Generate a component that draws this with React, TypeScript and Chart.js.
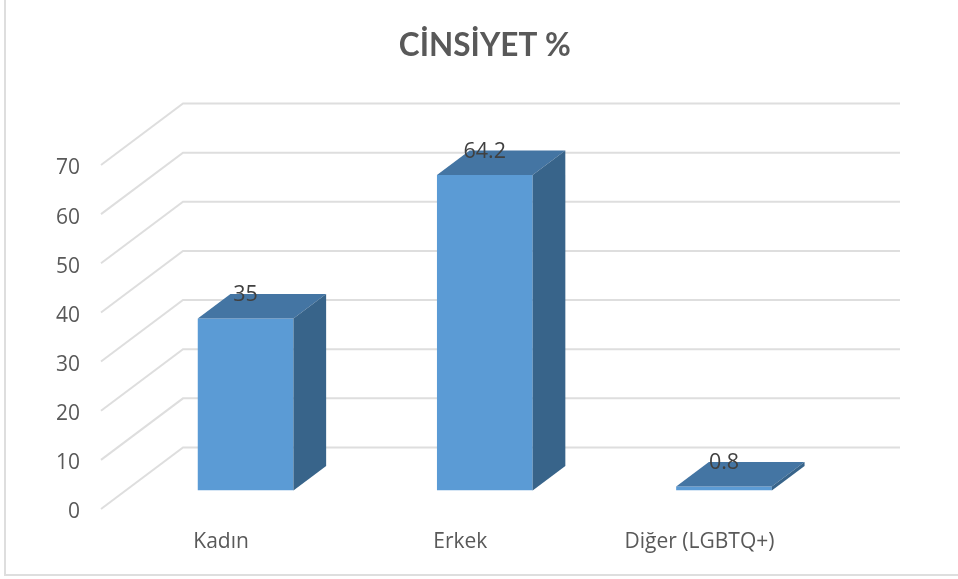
import React, { useEffect, useRef } from "react";
import { Chart, registerables } from "chart.js";

Chart.register(...registerables);

const categories = ["Kadın", "Erkek", "Diğer (LGBTQ+)"];
const values = [35, 64.2, 0.8];
const chartTitle = "CİNSİYET %";
const yMin = 0;
const yMax = 70;
const yStep = 10;

const FONT = "'Open Sans', sans-serif";
const TITLE_FONT = "Lato, sans-serif";
const TEXT = "#595959";
const GRID = "#DEDEDE";
const FRONT = "#5B9BD5";
const TOP = "#4475A3";
const SIDE = "#38648A";

const wallPlugin = {
  id: "wall",
  beforeDraw(chart: any) {
    const { ctx, width, height } = chart;
    ctx.save();
    ctx.fillStyle = "#fff";
    ctx.fillRect(0, 0, width, height);
    ctx.strokeStyle = GRID;
    ctx.lineWidth = 2;
    ctx.beginPath();
    ctx.moveTo(5, 0);
    ctx.lineTo(5, 575);
    ctx.lineTo(width, 575);
    ctx.stroke();
    ctx.restore();
  },
  beforeDatasetsDraw(chart: any) {
    const { ctx, chartArea, scales } = chart;
    ctx.save();
    ctx.strokeStyle = GRID;
    ctx.lineWidth = 2;
    ctx.lineJoin = "miter";
    for (const tick of scales.y.ticks) {
      const y = scales.y.getPixelForValue(tick.value);
      ctx.beginPath();
      ctx.moveTo(chartArea.left - 25, y + 18.5);
      ctx.lineTo(chartArea.left + 57, y - 43);
      ctx.lineTo(chartArea.right + 56.4, y - 43);
      ctx.stroke();
    }
    ctx.restore();
  },
  afterDatasetsDraw(chart: any) {
    const { ctx } = chart;
    const dx = 32.7;
    const dy = 24.5;
    const meta = chart.getDatasetMeta(0);
    ctx.save();
    meta.data.forEach((bar: any, i: number) => {
      const l = bar.x - bar.width / 2;
      const r = bar.x + bar.width / 2;
      const t = bar.y;
      const b = bar.base;
      ctx.fillStyle = TOP;
      ctx.beginPath();
      ctx.moveTo(l, t);
      ctx.lineTo(l + dx, t - dy);
      ctx.lineTo(r + dx, t - dy);
      ctx.lineTo(r, t);
      ctx.closePath();
      ctx.fill();
      ctx.fillStyle = SIDE;
      ctx.beginPath();
      ctx.moveTo(r, t);
      ctx.lineTo(r + dx, t - dy);
      ctx.lineTo(r + dx, b - dy);
      ctx.lineTo(r, b);
      ctx.closePath();
      ctx.fill();
      ctx.fillStyle = "#404040";
      ctx.font = `21.5px ${FONT}`;
      ctx.textAlign = "center";
      ctx.textBaseline = "middle";
      ctx.fillText(String(values[i]), bar.x, t - 23.5);
    });
    ctx.restore();
  },
};

export default function App() {
  const ref = useRef<HTMLCanvasElement>(null);
  useEffect(() => {
    document.body.style.margin = "0";
    const chart = new Chart(ref.current!, {
      type: "bar",
      data: {
        labels: categories,
        datasets: [
          {
            data: values,
            backgroundColor: FRONT,
            categoryPercentage: 1,
            barPercentage: 0.4,
          },
        ],
      },
      plugins: [wallPlugin],
      options: {
        responsive: false,
        animation: false,
        layout: { padding: { left: 0, right: 114.4, top: 0, bottom: 0 } },
        plugins: {
          legend: { display: false },
          tooltip: { enabled: false },
          title: {
            display: true,
            text: chartTitle,
            fullSize: false,
            color: TEXT,
            font: { family: TITLE_FONT, size: 31.5, weight: "bold", lineHeight: 1.2 },
            padding: { top: 27, bottom: 81.7 },
          },
        },
        scales: {
          x: {
            grid: { display: false },
            border: { display: false },
            ticks: {
              color: TEXT,
              font: { family: FONT, size: 21 },
              labelOffset: -24.5,
              padding: 30.5,
              maxRotation: 0,
              autoSkip: false,
            },
            afterFit(scale: any) {
              scale.height = 88.5;
            },
          },
          y: {
            min: yMin,
            max: yMax,
            grid: { display: false },
            border: { display: false },
            ticks: {
              stepSize: yStep,
              color: TEXT,
              font: { family: FONT, size: 21 },
              labelOffset: 22,
              padding: 38,
            },
            afterFit(scale: any) {
              scale.width = 126;
            },
          },
        },
      } as any,
    });
    return () => chart.destroy();
  }, []);
  return <canvas ref={ref} width={958} height={579} style={{ display: "block" }} />;
}
